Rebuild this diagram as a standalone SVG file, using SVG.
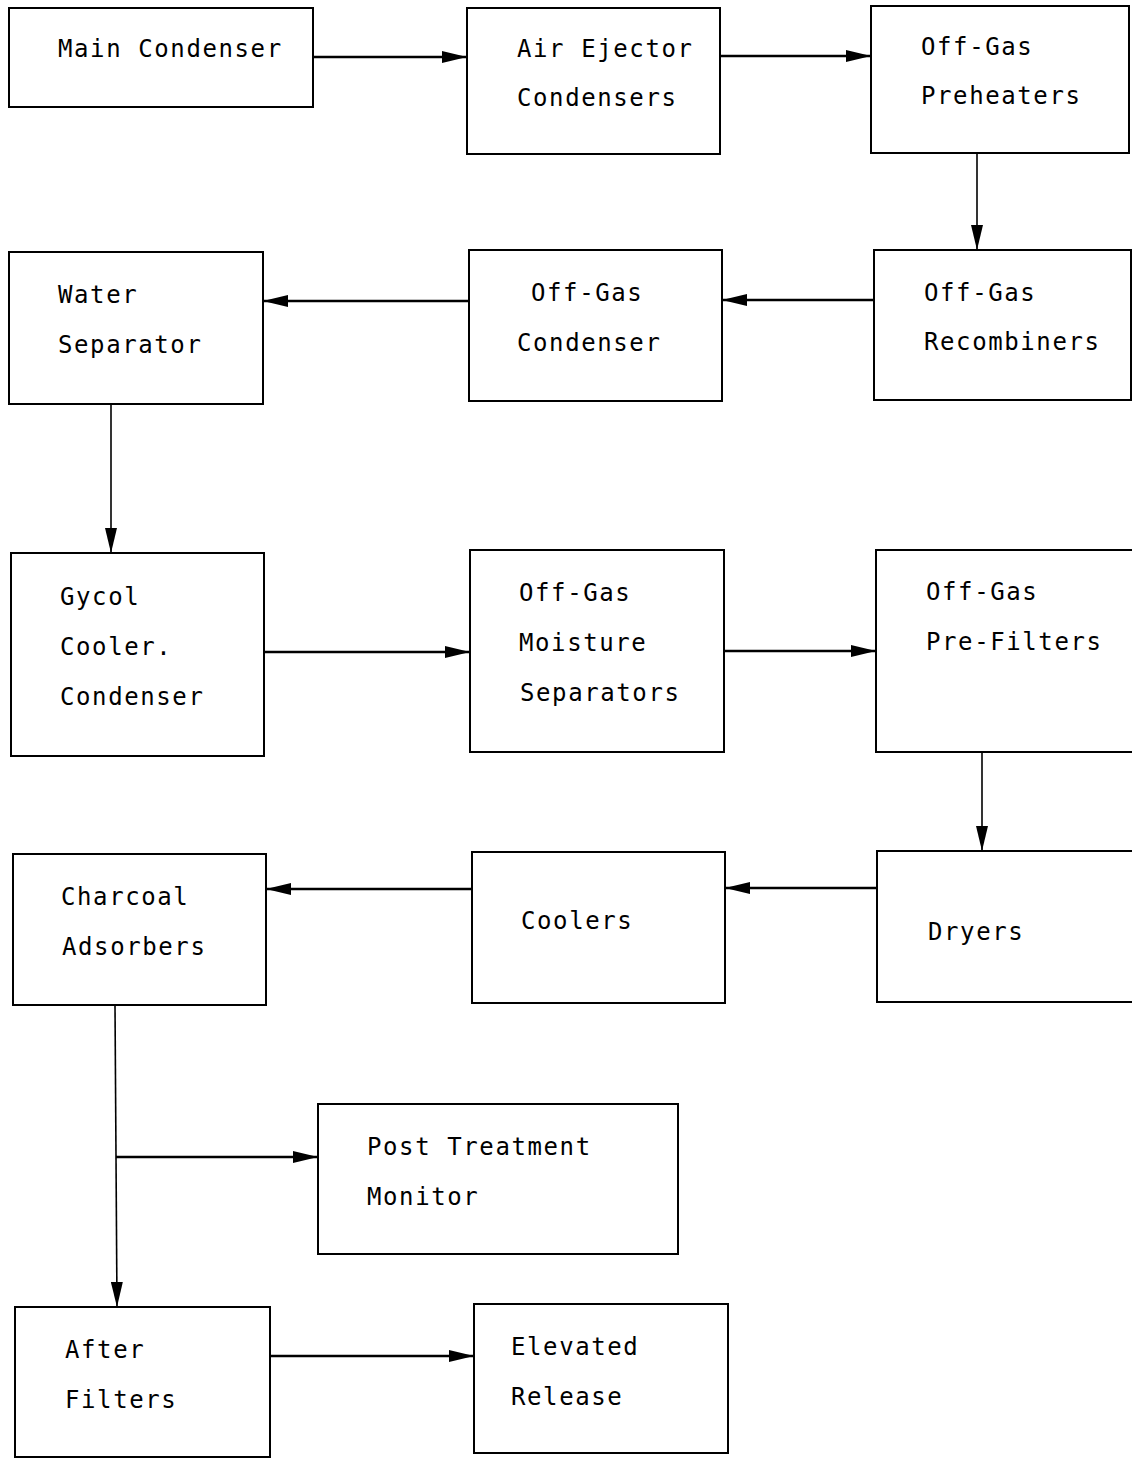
<svg xmlns="http://www.w3.org/2000/svg" width="1132" height="1459" viewBox="0 0 1132 1459">
<style>
  .box { fill: #ffffff; stroke: #000000; stroke-width: 2; }
  .lbl { font-family: "DejaVu Sans Mono", "Liberation Mono", monospace; font-size: 24px; letter-spacing: 1.6px; fill: #000000; }
  .conn { stroke: #000000; stroke-width: 2.5; fill: none; marker-end: url(#arrow); }
  .thin { stroke: #000000; stroke-width: 1.6; fill: none; marker-end: url(#arrow); }
  .plain { stroke: #000000; stroke-width: 1.6; fill: none; }
</style>
<defs>
  <marker id="arrow" markerUnits="userSpaceOnUse" markerWidth="26" markerHeight="12" refX="25" refY="6" orient="auto">
    <path d="M0,0 L25,6 L0,12 Z" fill="#000000"/>
  </marker>
</defs>
<rect width="1132" height="1459" fill="#ffffff"/>

<g id="connectors">
  <line class="conn" x1="313" y1="57" x2="467" y2="57"/>
  <line class="conn" x1="720" y1="56" x2="871" y2="56"/>
  <line class="thin" x1="977" y1="153" x2="977" y2="250"/>
  <line class="conn" x1="874" y1="300" x2="722" y2="300"/>
  <line class="conn" x1="469" y1="301" x2="263" y2="301"/>
  <line class="thin" x1="111" y1="404" x2="111" y2="553"/>
  <line class="conn" x1="264" y1="652" x2="470" y2="652"/>
  <line class="conn" x1="724" y1="651" x2="876" y2="651"/>
  <line class="thin" x1="982" y1="752" x2="982" y2="851"/>
  <line class="conn" x1="877" y1="888" x2="725" y2="888"/>
  <line class="conn" x1="472" y1="889" x2="266" y2="889"/>
  <line class="thin" x1="115" y1="1005" x2="117" y2="1307"/>
  <line class="conn" x1="116" y1="1157" x2="318" y2="1157"/>
  <line class="conn" x1="270" y1="1356" x2="474" y2="1356"/>
</g>

<g id="main-condenser">
  <rect class="box" x="9" y="8" width="304" height="99"/>
  <text class="lbl" x="58" y="57">Main Condenser</text>
</g>
<g id="air-ejector-condensers">
  <rect class="box" x="467" y="8" width="253" height="146"/>
  <text class="lbl" x="517" y="57">Air Ejector</text>
  <text class="lbl" x="517" y="106">Condensers</text>
</g>
<g id="off-gas-preheaters">
  <rect class="box" x="871" y="6" width="258" height="147"/>
  <text class="lbl" x="921" y="55">Off-Gas</text>
  <text class="lbl" x="921" y="104">Preheaters</text>
</g>
<g id="water-separator">
  <rect class="box" x="9" y="252" width="254" height="152"/>
  <text class="lbl" x="58" y="303">Water</text>
  <text class="lbl" x="58" y="353">Separator</text>
</g>
<g id="off-gas-condenser">
  <rect class="box" x="469" y="250" width="253" height="151"/>
  <text class="lbl" x="531" y="301">Off-Gas</text>
  <text class="lbl" x="517" y="351">Condenser</text>
</g>
<g id="off-gas-recombiners">
  <rect class="box" x="874" y="250" width="257" height="150"/>
  <text class="lbl" x="924" y="301">Off-Gas</text>
  <text class="lbl" x="924" y="350">Recombiners</text>
</g>
<g id="gycol-cooler-condenser">
  <rect class="box" x="11" y="553" width="253" height="203"/>
  <text class="lbl" x="60" y="605">Gycol</text>
  <text class="lbl" x="60" y="655">Cooler.</text>
  <text class="lbl" x="60" y="705">Condenser</text>
</g>
<g id="off-gas-moisture-separators">
  <rect class="box" x="470" y="550" width="254" height="202"/>
  <text class="lbl" x="519" y="601">Off-Gas</text>
  <text class="lbl" x="519" y="651">Moisture</text>
  <text class="lbl" x="520" y="701">Separators</text>
</g>
<g id="off-gas-pre-filters">
  <rect class="box" x="876" y="550" width="262" height="202"/>
  <text class="lbl" x="926" y="600">Off-Gas</text>
  <text class="lbl" x="926" y="650">Pre-Filters</text>
</g>
<g id="charcoal-adsorbers">
  <rect class="box" x="13" y="854" width="253" height="151"/>
  <text class="lbl" x="61" y="905">Charcoal</text>
  <text class="lbl" x="62" y="955">Adsorbers</text>
</g>
<g id="coolers">
  <rect class="box" x="472" y="852" width="253" height="151"/>
  <text class="lbl" x="521" y="929">Coolers</text>
</g>
<g id="dryers">
  <rect class="box" x="877" y="851" width="261" height="151"/>
  <text class="lbl" x="928" y="940">Dryers</text>
</g>
<g id="post-treatment-monitor">
  <rect class="box" x="318" y="1104" width="360" height="150"/>
  <text class="lbl" x="367" y="1155">Post Treatment</text>
  <text class="lbl" x="367" y="1205">Monitor</text>
</g>
<g id="after-filters">
  <rect class="box" x="15" y="1307" width="255" height="150"/>
  <text class="lbl" x="65" y="1358">After</text>
  <text class="lbl" x="65" y="1408">Filters</text>
</g>
<g id="elevated-release">
  <rect class="box" x="474" y="1304" width="254" height="149"/>
  <text class="lbl" x="511" y="1355">Elevated</text>
  <text class="lbl" x="511" y="1405">Release</text>
</g>
</svg>
